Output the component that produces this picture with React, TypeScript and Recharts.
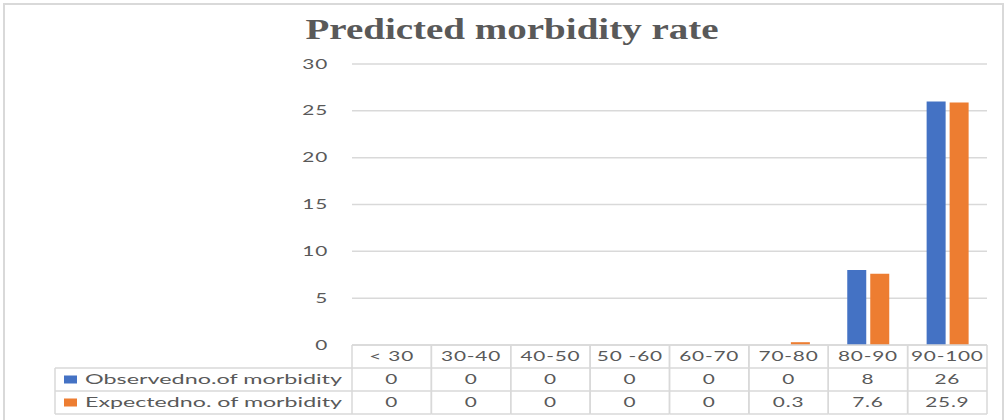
import React from 'react'
import { BarChart, Bar, XAxis, YAxis, CartesianGrid } from 'recharts'

const categories = ['< 30', '30-40', '40-50', '50 -60', '60-70', '70-80', '80-90', '90-100']
const observed = [0, 0, 0, 0, 0, 0, 8, 26]
const expected = [0, 0, 0, 0, 0, 0.3, 7.6, 25.9]
const seriesNames = ['Observedno.of morbidity', 'Expectedno. of morbidity']
const seriesColors = ['#4472C4', '#ED7D31']
const yTicks = [0, 5, 10, 15, 20, 25, 30]

const data = categories.map((c, i) => ({ category: c, observed: observed[i], expected: expected[i] }))

const W = 1006
const H = 420
const MARGIN = { top: 64, right: 19, bottom: 0, left: 292 }
const Y_W = 60
const X_H = 75
const CELL_W = (W - MARGIN.left - MARGIN.right - Y_W) / categories.length
const ROW_H = 23
const LEGEND_W = 297
const GRID = '#d9d9d9'
const TEXT = '#595959'
const FONT = 'Lato, "Open Sans", sans-serif'

const Stretch = ({ x, y, anchor = 'middle', size = 13, children }: any) => (
  <text
    transform={`translate(${x},${y}) scale(1.6,1)`}
    textAnchor={anchor}
    dy="0.35em"
    fontFamily={FONT}
    fontSize={size}
    letterSpacing={0.5}
    fill={TEXT}
  >
    {children}
  </text>
)

const YTick = ({ x, y, payload }: any) => <Stretch x={x} y={y} anchor="end">{payload.value}</Stretch>

const TableTick = (props: any) => {
  const { x, y, payload } = props
  const i = payload.index ?? props.index
  const left = x - CELL_W / 2
  const right = x + CELL_W / 2
  const rows = [observed, expected]
  return (
    <g>
      {[0, 1, 2, 3].map((r) => (
        <line key={r} x1={left} x2={right} y1={y + r * ROW_H} y2={y + r * ROW_H} stroke={GRID} strokeWidth={1.5} />
      ))}
      <line x1={left} x2={left} y1={y} y2={y + 3 * ROW_H} stroke={GRID} strokeWidth={1.5} />
      <line x1={right} x2={right} y1={y} y2={y + 3 * ROW_H} stroke={GRID} strokeWidth={1.5} />
      <Stretch x={x} y={y + ROW_H / 2}>{payload.value}</Stretch>
      {rows.map((vals, r) => (
        <Stretch key={r} x={x} y={y + (r + 1.5) * ROW_H}>{String(vals[i])}</Stretch>
      ))}
      {i === 0 && (
        <g>
          {[1, 2, 3].map((r) => (
            <line key={r} x1={left - LEGEND_W} x2={left} y1={y + r * ROW_H} y2={y + r * ROW_H} stroke={GRID} strokeWidth={1.5} />
          ))}
          <line x1={left - LEGEND_W} x2={left - LEGEND_W} y1={y + ROW_H} y2={y + 3 * ROW_H} stroke={GRID} strokeWidth={1.5} />
          {seriesNames.map((name, r) => (
            <g key={name}>
              <rect x={left - LEGEND_W + 9} y={y + (r + 1.5) * ROW_H - 4} width={13} height={8} fill={seriesColors[r]} />
              <text
                x={left - LEGEND_W + 30}
                y={y + (r + 1.5) * ROW_H}
                dy="0.35em"
                fontFamily={FONT}
                fontSize={14}
                fill={TEXT}
                textLength={257}
                lengthAdjust="spacingAndGlyphs"
              >
                {name}
              </text>
            </g>
          ))}
        </g>
      )}
    </g>
  )
}

export default function App() {
  return (
    <div style={{ position: 'absolute', left: 0, top: 0, width: W, height: H, background: '#fff', overflow: 'hidden' }}>
      <div style={{ position: 'absolute', left: 3, top: 3, width: 997, height: 420, border: '2px solid #d9d9d9' }} />
      <svg width={W} height={60} style={{ position: 'absolute', left: 0, top: 0 }}>
        <text
          x={512}
          y={39}
          textAnchor="middle"
          fontFamily='"Liberation Serif", "DejaVu Serif", serif'
          fontWeight="bold"
          fontSize={29}
          fill={TEXT}
          textLength={413}
          lengthAdjust="spacingAndGlyphs"
        >
          Predicted morbidity rate
        </text>
      </svg>
      <div style={{ position: 'absolute', left: 0, top: 0 }}>
        <BarChart width={W} height={H} data={data} margin={MARGIN} barSize={19} barGap={4}>
          <CartesianGrid vertical={false} stroke={GRID} strokeWidth={1.5} />
          <XAxis
            dataKey="category"
            height={X_H}
            axisLine={false}
            tickLine={false}
            tickSize={0}
            tickMargin={0}
            interval={0}
            tick={<TableTick />}
          />
          <YAxis
            width={Y_W}
            domain={[0, 30]}
            ticks={yTicks}
            axisLine={false}
            tickLine={false}
            tickSize={0}
            tickMargin={24}
            tick={<YTick />}
          />
          <Bar dataKey="observed" name={seriesNames[0]} fill={seriesColors[0]} isAnimationActive={false} />
          <Bar dataKey="expected" name={seriesNames[1]} fill={seriesColors[1]} isAnimationActive={false} />
        </BarChart>
      </div>
    </div>
  )
}
